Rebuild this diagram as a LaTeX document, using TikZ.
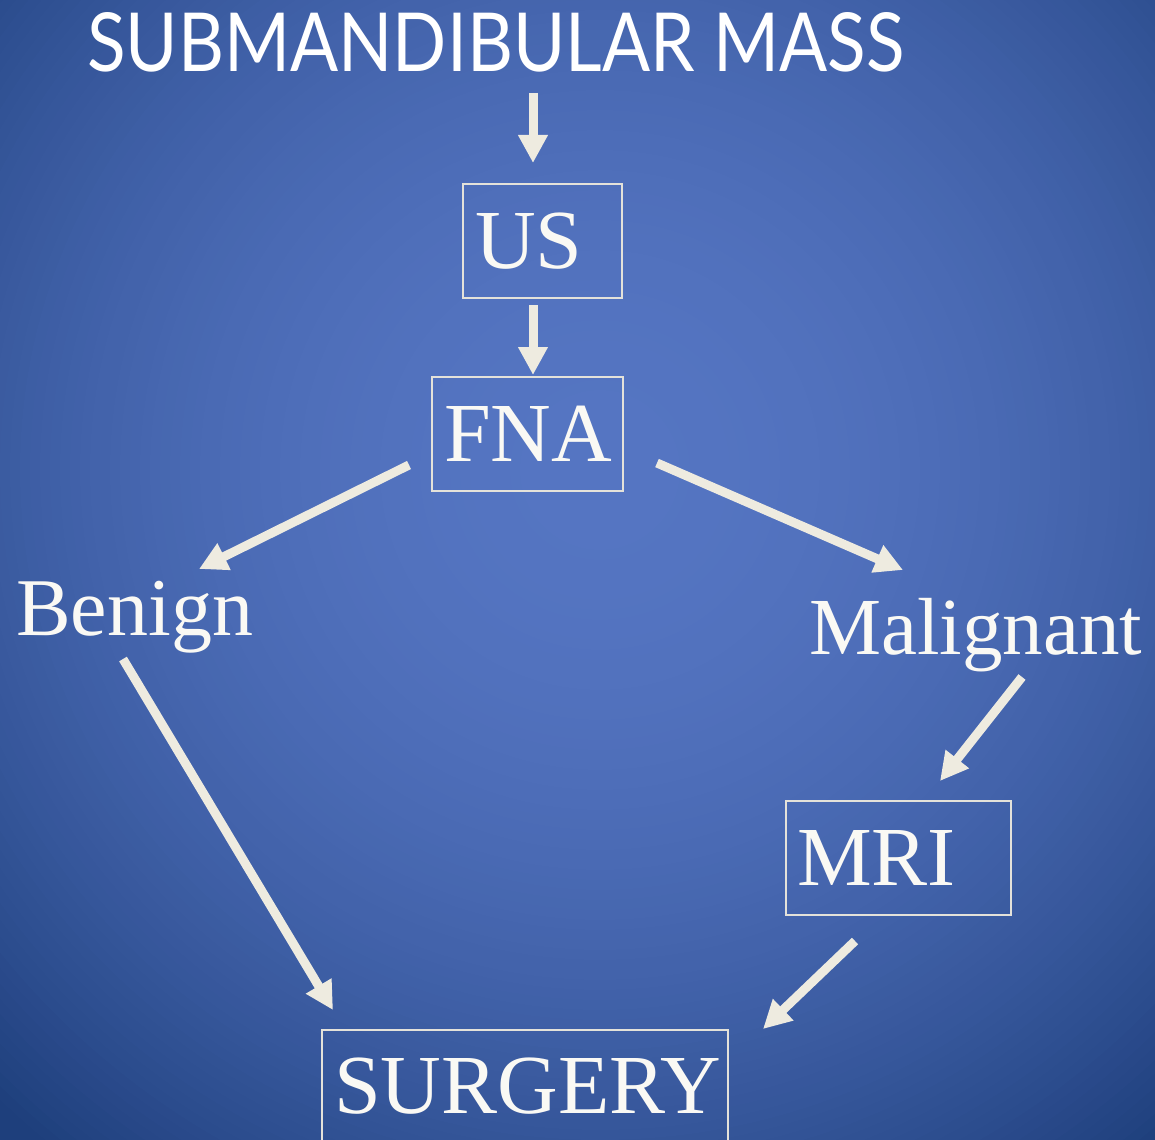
\documentclass[tikz,border=0pt]{standalone}
\usepackage{fontspec}
\setmainfont{Liberation Serif}
\newfontfamily\titlefont{Lato}
\usetikzlibrary{arrows.meta}
\definecolor{bgA}{HTML}{5575C2}
\definecolor{bgD}{HTML}{1E3F7C}
\definecolor{arrowcol}{HTML}{EEEBE0}
\definecolor{boxcol}{HTML}{E4E2DA}
\definecolor{txtcol}{HTML}{FAF9F4}
\tikzset{
  arr/.style={draw=arrowcol, line width=9pt, -{Triangle[length=28pt,width=28pt]}, fill=arrowcol},
  lbl/.style={text=txtcol, font=\fontsize{84}{90}\selectfont, inner sep=0pt, anchor=base west},
  boxnode/.style={draw=boxcol, line width=2pt, text=txtcol, font=\fontsize{84}{90}\selectfont, inner ysep=0pt, inner xsep=12pt, anchor=north west}
}
\begin{document}
\begin{tikzpicture}[x=1pt,y=-1pt]
\useasboundingbox (0,0) rectangle (1155,1139);
\begin{scope}
\clip (0,0) rectangle (1155,1139);
\fill[bgD] (0,0) rectangle (1155,1139);
\foreach \r in {1000,990,...,10} {
  \pgfmathsetmacro\p{min(100,100*(\r/880)^2)}
  \fill[bgD!\p!bgA] (600,470) circle[radius=\r];
}
\end{scope}

% title
\node[lbl, text=white] (title) at (87,72) {\resizebox{817pt}{59pt}{\titlefont SUBMANDIBULAR MASS}};

% boxes
\node[boxnode, minimum height=114pt] (us) at (462,183) {\makebox[135pt][l]{US}};
\node[boxnode, minimum height=114pt] (fna) at (431,376) {\makebox[167pt][l]{FNA}};
\node[boxnode, minimum height=114pt, inner xsep=11pt] (mri) at (785,800) {\makebox[203pt][l]{MRI}};
\node[boxnode, minimum height=112pt, inner xsep=12pt] (surgery) at (321,1029) {\makebox[382pt][l]{SURGERY}};

% labels
\node[lbl, font=\fontsize{82}{90}\selectfont] (benign) at (16,635) {Benign};
\node[lbl, font=\fontsize{81}{90}\selectfont] (malignant) at (809,654) {Malignant};

% connector end points
\coordinate (a1s) at (533,93);   \coordinate (a1e) at (533,163);
\coordinate (a2s) at (533,305);  \coordinate (a2e) at (533,375);
\coordinate (a3s) at (409,465);  \coordinate (a3e) at (199,569);
\coordinate (a4s) at (657,463);  \coordinate (a4e) at (903,570);
\coordinate (a5s) at (1022,677); \coordinate (a5e) at (940,781);
\coordinate (a6s) at (123,659);  \coordinate (a6e) at (333,1010);
\coordinate (a7s) at (855,941);  \coordinate (a7e) at (763,1029);

\draw[arr] (a1s) -- (a1e);
\draw[arr] (a2s) -- (a2e);
\draw[arr] (a3s) -- (a3e);
\draw[arr] (a4s) -- (a4e);
\draw[arr] (a5s) -- (a5e);
\draw[arr] (a6s) -- (a6e);
\draw[arr] (a7s) -- (a7e);
\end{tikzpicture}
\end{document}
